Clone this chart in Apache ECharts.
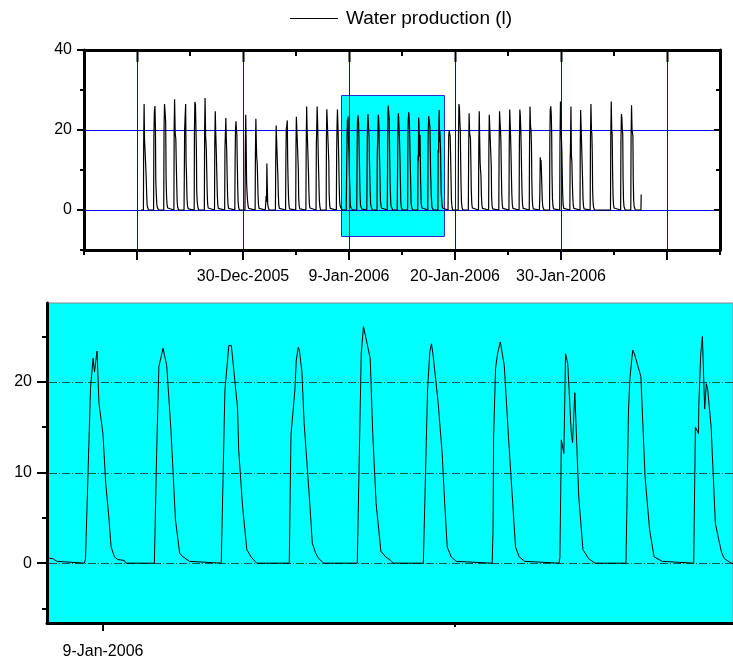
<!DOCTYPE html>
<html>
<head>
<meta charset="utf-8">
<script src="https://cdn.jsdelivr.net/npm/echarts@6/dist/echarts.min.js"></script>
<style>
  html, body { margin: 0; padding: 0; background: #ffffff; }
  #chart { width: 733px; height: 666px; }
</style>
</head>
<body>
<div id="chart"></div>
<script>
// ---------------------------------------------------------------------------
// Water production record, 20-Dec-2005 ... 7-Feb-2006.
// Time is counted in days from 30-Dec-2005 00:00.
// Each day is a list of [hour of day, litres] vertices; the output is zero
// between the last vertex of one day and the first vertex of the next.
// ---------------------------------------------------------------------------
const seriesName = 'Water production (l)';
const firstDayOffset = -10;          // 20-Dec-2005 relative to 30-Dec-2005

const dayTraces = [
  /* 20-Dec */ [[2.4,0],[8.0,0],[8.6,17],[9.6,26.5],[10.6,17.5],[12.0,14.5],[13.4,11],[14.6,7.8],[15.8,3.5],[16.8,1.2],[18.0,0.6],[20.0,0]],
  /* 21-Dec */ [[8.0,0],[8.7,18],[9.8,24.5],[11.2,26],[12.4,20],[13.2,7.5],[14.4,4],[15.6,1.5],[17.0,0.6],[18.5,0.3],[20.0,0]],
  /* 22-Dec */ [[8.0,0],[8.7,20],[9.8,26.5],[11.4,24.2],[12.6,22],[13.6,7.5],[14.8,3],[16.0,1.2],[17.5,0.5],[19.0,0]],
  /* 23-Dec */ [[8.0,0],[8.7,21],[9.7,27.7],[11.0,19.3],[12.6,17.7],[13.8,11],[14.8,6],[15.8,2],[17.0,0.7],[19.0,0]],
  /* 24-Dec */ [[8.0,0],[8.6,8],[9.4,20],[10.6,23.5],[11.8,26.5],[12.8,12],[13.8,8.7],[15.0,3],[16.2,1],[18.0,0.3],[19.5,0]],
  /* 25-Dec */ [[8.0,0],[8.6,20],[9.6,27],[11.0,26.4],[12.2,26],[13.2,15],[14.0,4.6],[15.2,2],[16.6,0.8],[18.5,0]],
  /* 26-Dec */ [[8.0,0],[8.7,20],[9.7,28],[11.0,18.5],[12.6,15.3],[13.8,9],[14.8,4],[15.8,1.5],[17.2,0.5],[19.0,0]],
  /* 27-Dec */ [[8.0,0],[8.7,17],[9.8,24.7],[11.0,19],[12.4,14],[13.6,8.5],[14.6,4],[15.8,1.2],[17.2,0.4],[19.0,0]],
  /* 28-Dec */ [[8.0,0],[8.7,15],[9.6,18.5],[10.8,23],[11.8,18],[12.8,15],[13.8,9],[14.8,4],[16.0,1.2],[17.5,0.4],[19.0,0]],
  /* 29-Dec */ [[8.0,0],[8.7,12],[9.6,20],[10.8,22.2],[11.8,20],[12.8,19],[13.8,12],[14.8,6],[15.8,2],[17.2,0.6],[19.0,0]],
  /* 30-Dec */ [[8.0,0],[8.7,14],[9.8,23.8],[10.8,17],[11.8,7.1],[12.8,4.6],[14.0,2.5],[15.4,1],[17.0,0.4],[18.5,0]],
  /* 31-Dec */ [[8.0,0],[8.7,14],[9.8,22.8],[10.8,17],[11.8,13],[12.8,12],[13.8,8.5],[14.8,4],[16.0,1.3],[17.5,0.4],[19.0,0]],
  /* 01-Jan */ [[8.0,0],[9.0,1.5],[10.0,3.5],[11.0,2],[11.8,11.6],[12.8,6],[13.8,1.5],[15.2,0.6],[17.0,0]],
  /* 02-Jan */ [[8.0,0],[8.7,12],[9.8,21.1],[10.8,17.5],[11.8,14.4],[12.8,11],[13.8,8.7],[14.8,4],[16.0,1.2],[17.5,0.4],[19.0,0]],
  /* 03-Jan */ [[8.0,0],[8.7,12],[9.6,20.2],[10.8,21],[12.0,22.4],[13.0,12],[14.0,7],[15.0,3],[16.2,1],[17.5,0.3],[19.0,0]],
  /* 04-Jan */ [[8.0,0],[8.6,16],[9.5,23.3],[10.8,23.4],[12.2,23.3],[13.4,23.2],[14.2,10],[15.0,3],[16.2,1],[17.6,0.3],[19.0,0]],
  /* 05-Jan */ [[8.0,0],[8.7,15],[9.8,25.9],[11.0,20],[12.2,16.1],[13.2,12.5],[14.2,9.1],[15.2,4.5],[16.2,1.5],[17.6,0.5],[19.0,0]],
  /* 06-Jan */ [[8.0,0],[8.7,16],[9.6,20],[10.6,25.9],[11.8,22],[12.8,16],[13.8,11],[14.8,7],[15.8,2.5],[17.2,0.7],[19.0,0]],
  /* 07-Jan */ [[8.0,0],[8.6,18],[9.5,25.2],[10.8,25.3],[12.2,25.2],[13.4,25],[14.2,12],[15.0,4],[16.2,1.2],[17.6,0.4],[19.0,0]],
  /* 08-Jan */ [[8.0,0],[8.7,14],[9.6,21],[10.6,25.1],[11.8,21],[12.8,17],[13.6,13],[14.6,7],[15.6,2.5],[16.6,1.2],[17.6,0.9],[18.3,0.8],[18.8,0.55],[20.0,0.5],[20.5,0.3],[21.6,0.2],[22.2,0]],
  /* 09-Jan */ [[7.3,0],[7.7,0.5],[9.5,19.4],[10.2,19.4],[10.4,22.6],[10.9,21.1],[11.8,23.4],[12.5,17.6],[13.9,14.3],[14.9,8.8],[16.0,5.1],[16.8,1.8],[18.0,0.7],[19.2,0.4],[21.5,0.3],[22.1,0]],
  /* 10-Jan */ [[8.2,0],[9.0,12],[9.8,21.7],[11.3,23.7],[12.6,21.8],[14.1,14.7],[14.7,11],[15.7,4.8],[17.2,1.1],[18.4,0.7],[20.7,0.2],[21.3,0]],
  /* 11-Jan */ [[8.0,0],[9.3,19.1],[10.7,24.0],[11.6,24.0],[13.8,17.1],[14.2,12.5],[15.6,6.2],[17.1,1.5],[18.6,0.7],[20.6,0]],
  /* 12-Jan */ [[8.2,0],[8.8,14.1],[10.2,19.1],[10.7,22.4],[11.4,23.8],[11.8,23.5],[12.7,21.1],[13.5,15.4],[15.5,6.6],[16.4,2.2],[17.6,1.1],[18.7,0.5],[20.5,0]],
  /* 13-Jan */ [[8.4,0],[9.8,23.1],[10.6,26.1],[13.0,22.6],[13.9,14.3],[15.1,6.6],[16.8,1.3],[18.5,0.7],[20.3,0.3],[21.1,0]],
  /* 14-Jan */ [[7.9,0],[9.4,19.1],[10.2,23.3],[10.8,24.2],[11.4,22.9],[11.8,22.8],[12.0,22.9],[13.2,17.6],[14.6,12.1],[15.5,6.6],[16.4,1.8],[17.8,0.7],[19.6,0.2],[19.9,0]],
  /* 15-Jan */ [[8.4,0],[8.7,3.7],[8.9,13.9],[9.6,21.5],[10.3,23.1],[11.3,24.4],[12.7,21.8],[14.2,13.9],[15.7,6.6],[16.7,1.8],[18.0,0.7],[20.0,0.2],[20.6,0]],
  /* 16-Jan */ [[8.2,0],[8.5,0.7],[9.0,13.6],[9.9,12.1],[10.5,23.1],[11.3,22.0],[12.0,21.8],[12.5,14.5],[13.0,13.3],[13.8,18.8],[15.2,7.3],[16.7,1.5],[18.7,0.5],[21.0,0]],
  /* 17-Jan */ [[8.0,0],[8.9,16.9],[9.4,20.4],[10.4,23.5],[11.0,23.1],[11.7,23.1],[13.3,20.6],[14.8,9.5],[16.4,3.7],[18.0,0.7],[20.9,0.2],[21.4,0]],
  /* 18-Jan */ [[8.1,0],[8.7,15],[9.8,14.3],[9.9,17.3],[10.6,23.1],[11.2,25],[12.0,17],[12.6,19.8],[13.1,19.1],[14.3,15],[15.8,4.4],[17.0,2.6],[18.0,1.2],[19.0,0.5],[20.5,0.2],[21.5,0]],
  /* 19-Jan */ [[8.0,0],[8.7,10],[9.6,18.5],[10.8,19.8],[12.0,20],[13.0,18.5],[14.0,14],[15.0,8],[16.0,2.5],[17.5,0.7],[19.0,0]],
  /* 20-Jan */ [[8.0,0],[8.7,18],[9.8,26.5],[11.0,25.5],[12.0,22],[13.0,20],[13.8,13],[14.8,6],[15.8,2],[17.2,0.6],[19.0,0]],
  /* 21-Jan */ [[8.0,0],[8.7,14],[9.8,24.2],[11.0,19.3],[12.0,19],[13.0,18],[14.0,12],[15.0,5],[16.2,1.5],[17.6,0.5],[19.0,0]],
  /* 22-Jan */ [[8.0,0],[8.7,16],[9.8,24.7],[10.8,18],[11.8,12],[12.8,10],[13.8,8.7],[14.8,4],[16.0,1.3],[17.5,0.4],[19.0,0]],
  /* 23-Jan */ [[8.0,0],[8.6,16],[9.5,23.8],[10.8,24],[12.2,23.8],[13.4,23.6],[14.2,11],[15.0,3.5],[16.2,1],[17.6,0.3],[19.0,0]],
  /* 24-Jan */ [[8.0,0],[8.7,15],[9.8,24.7],[11.0,22],[12.0,20],[13.0,17],[14.0,10],[15.0,4],[16.2,1.3],[17.6,0.4],[19.0,0]],
  /* 25-Jan */ [[8.0,0],[8.7,16],[9.8,25.1],[10.8,22],[11.8,18.5],[12.8,14.4],[13.8,9],[14.8,4],[16.0,1.3],[17.5,0.4],[19.0,0]],
  /* 26-Jan */ [[8.0,0],[8.7,17],[9.8,25.1],[11.0,23.4],[12.0,20],[13.0,15],[14.0,9],[15.0,4],[16.2,1.3],[17.6,0.4],[19.0,0]],
  /* 27-Jan */ [[8.0,0],[8.7,17],[9.8,25.9],[11.0,21],[12.2,20],[13.2,16],[14.0,8],[15.0,3],[16.2,1],[17.6,0.3],[19.0,0]],
  /* 28-Jan */ [[8.0,0],[9.0,4],[10.0,13.2],[10.8,11.2],[11.8,12.5],[12.8,9.5],[13.8,6],[14.8,2.5],[16.0,0.8],[17.5,0.3],[19.0,0]],
  /* 29-Jan */ [[8.0,0],[8.7,18],[9.6,25],[10.8,25.9],[12.0,24],[13.0,19],[13.8,9],[14.8,3],[16.0,1],[17.5,0.3],[19.0,0]],
  /* 30-Jan */ [[8.0,0],[8.7,18],[9.8,27.1],[11.0,21],[12.0,18],[13.0,15],[14.0,9],[15.0,4],[16.2,1.3],[17.6,0.4],[19.0,0]],
  /* 31-Jan */ [[8.0,0],[8.6,12],[9.4,16],[10.6,25.9],[11.6,13.6],[12.8,12],[13.8,7],[14.8,3.5],[16.0,1.2],[17.4,0.4],[19.0,0]],
  /* 01-Feb */ [[8.0,0],[8.6,17],[9.5,25],[10.8,25.2],[12.2,25],[13.4,24.8],[14.2,7],[15.0,3],[16.2,1],[17.6,0.3],[19.0,0]],
  /* 02-Feb */ [[8.0,0],[8.7,18],[9.8,26.5],[11.0,20.2],[12.0,19],[13.0,14],[13.8,5],[14.8,2],[16.0,0.7],[17.4,0.2],[18.5,0]],
  /* 03-Feb */ [],
  /* 04-Feb */ [[8.0,0],[8.7,18],[9.8,27.1],[11.0,20],[12.0,19],[13.0,9.5],[14.0,4],[15.0,1.5],[16.4,0.5],[18.0,0]],
  /* 05-Feb */ [[8.0,0],[8.7,17],[9.8,24],[11.0,23],[12.0,20],[13.0,19],[13.8,8],[14.8,2.5],[16.0,0.8],[17.5,0.3],[19.0,0]],
  /* 06-Feb */ [[8.0,0],[8.7,18],[9.8,26.2],[11.0,20],[12.0,19.5],[13.0,18.5],[13.8,8],[14.8,2.5],[16.0,0.8],[17.5,0.3],[19.0,0]],
  /* 07-Feb */ [[8.0,0],[8.6,3.9]]
];

// Date axis: major ticks (days from 30-Dec-2005) and their labels
const tickStep = 10.44;
const majorTicks = [-10.30, 0.14, 10.58, 21.02, 31.46, 41.90];
const majorLabels = ['', '30-Dec-2005', '9-Jan-2006', '20-Jan-2006', '30-Jan-2006', ''];

// Overview panel ranges and ticks
const overviewX = [-15.52, 47.12];
const overviewY = [-10, 40];
const overviewYMinor = [-10, 10, 30];
const overviewYMajor = [0, 20, 40];
const overviewGridLines = [0, 20];

// Detail panel (the highlighted window) ranges and ticks
const detailX = [9.75, 19.92];
const detailY = [-6.6, 28.7];
const detailYMinor = [-5, 5, 15, 25];
const detailYMajor = [0, 10, 20];
const detailGridLines = [0, 10, 20];

// ---------------------------------------------------------------------------
const points = [];
dayTraces.forEach((trace, d) => {
  trace.forEach(([h, v]) => points.push([firstDayOffset + d + h / 24, v]));
});

const minorTicks = majorTicks.map(v => +(v - tickStep / 2).toFixed(2))
  .concat([+(majorTicks[majorTicks.length - 1] + tickStep / 2).toFixed(2)]);
const inRange = (arr, r) => arr.filter(v => v >= r[0] - 1e-6 && v <= r[1] + 1e-6);
const labelledTicks = majorTicks.filter((v, i) => majorLabels[i] !== '');
function dateLabel(value) {
  let best = 0;
  majorTicks.forEach((t, i) => { if (Math.abs(t - value) < Math.abs(majorTicks[best] - value)) best = i; });
  return majorLabels[best];
}

const FONT = "'Liberation Sans', Arial, Helvetica, sans-serif";
const AXIS_LINE = { show: true, onZero: false, lineStyle: { color: '#000', width: 3 } };
const NO_LINE = { show: false, onZero: false };
const labelStyle = { color: '#000', fontSize: 16, fontFamily: FONT };

function axis(opts) {
  const a = {
    type: 'value',
    gridIndex: opts.grid,
    position: opts.position,
    min: opts.range[0],
    max: opts.range[1],
    axisLine: opts.line ? AXIS_LINE : NO_LINE,
    axisTick: {
      show: true,
      inside: !!opts.inside,
      length: opts.tickLen,
      customValues: opts.ticks,
      lineStyle: { color: '#000', width: 2 }
    },
    axisLabel: { show: false },
    splitLine: { show: false },
    splitArea: { show: false },
    minorTick: { show: false },
    minorSplitLine: { show: false },
    silent: true
  };
  if (opts.labels) {
    a.axisLabel = Object.assign({
      show: true,
      customValues: opts.labels,
      margin: opts.margin,
      formatter: opts.formatter
    }, labelStyle);
  }
  return a;
}

const xAxes = [
  axis({ grid: 0, position: 'bottom', range: overviewX, line: true, ticks: inRange(minorTicks, overviewX), tickLen: 5 }),
  axis({ grid: 0, position: 'bottom', range: overviewX, line: false, ticks: inRange(majorTicks, overviewX), tickLen: 10,
         labels: labelledTicks, margin: 19, formatter: v => dateLabel(v) }),
  axis({ grid: 0, position: 'top', range: overviewX, line: true, inside: true, ticks: inRange(minorTicks, overviewX), tickLen: 6 }),
  axis({ grid: 1, position: 'bottom', range: detailX, line: true, ticks: inRange(minorTicks, detailX), tickLen: 4 }),
  axis({ grid: 1, position: 'bottom', range: detailX, line: false, ticks: inRange(majorTicks, detailX), tickLen: 8,
         labels: inRange(labelledTicks, detailX), margin: 21, formatter: v => dateLabel(v) })
];

const yAxes = [
  axis({ grid: 0, position: 'left', range: overviewY, line: true, ticks: overviewYMinor, tickLen: 4,
         labels: overviewYMajor, margin: 12, formatter: v => String(v) }),
  axis({ grid: 0, position: 'left', range: overviewY, line: false, ticks: overviewYMajor, tickLen: 7 }),
  axis({ grid: 0, position: 'right', range: overviewY, line: true, inside: true, ticks: overviewYMinor, tickLen: 4 }),
  axis({ grid: 0, position: 'right', range: overviewY, line: false, inside: true, ticks: overviewYMajor, tickLen: 6 }),
  axis({ grid: 1, position: 'left', range: detailY, line: true, ticks: detailYMinor, tickLen: 5,
         labels: detailYMajor, margin: 15, formatter: v => String(v) }),
  axis({ grid: 1, position: 'left', range: detailY, line: false, ticks: detailYMajor, tickLen: 10 })
];

const GRID_BLUE = '#0000ff';
const TOP_MAJOR_TICK = 12;   // inward length of the major ticks on the top frame

// grid lines of the overview: vertical ones at the major date ticks (kind 0,
// topped by the inward major tick of the upper frame), horizontal ones at the
// listed levels (kind 1)
const overviewGridData = inRange(majorTicks, overviewX).map(v => [0, v, 0])
  .concat(overviewGridLines.map(v => [1, overviewX[0], v]));

const option = {
  animation: false,
  backgroundColor: '#ffffff',
  legend: {
    data: [{ name: seriesName, icon: 'rect' }],
    left: 285,
    top: 4,
    itemWidth: 48,
    itemHeight: 1,
    textStyle: { color: '#000', fontSize: 19, fontFamily: FONT, padding: [0, 0, 0, 3] },
    selectedMode: false
  },
  grid: [
    { left: 84, right: 13, top: 50, bottom: 416, show: false },
    { left: 47, right: -14, top: 303, bottom: 43, show: true,
      backgroundColor: '#00ffff', borderColor: '#8a8a8a', borderWidth: 1 }
  ],
  xAxis: xAxes,
  yAxis: yAxes,
  series: [
    // highlighted window in the overview
    {
      type: 'custom', xAxisIndex: 0, yAxisIndex: 0, z: 1, silent: true,
      encode: { x: [0, 2], y: [1, 3] },
      data: [[detailX[0], detailY[0], detailX[1], detailY[1]]],
      renderItem(params, api) {
        const p0 = api.coord([api.value(0), api.value(3)]);
        const p1 = api.coord([api.value(2), api.value(1)]);
        return {
          type: 'rect',
          shape: { x: Math.round(p0[0]) + 0.5, y: Math.round(p0[1]) + 0.5,
                   width: Math.round(p1[0] - p0[0]), height: Math.round(p1[1] - p0[1]) },
          style: { fill: '#00ffff', stroke: '#2a2ad0', lineWidth: 1 }
        };
      }
    },
    {
      type: 'custom', xAxisIndex: 0, yAxisIndex: 0, z: 2, silent: true,
      encode: { x: 1, y: 2 },
      data: overviewGridData,
      renderItem(params, api) {
        const cs = params.coordSys;
        if (api.value(0) === 0) {
          const x = Math.round(api.coord([api.value(1), 0])[0]);
          return {
            type: 'group',
            children: [
              { type: 'rect', shape: { x: x, y: cs.y + TOP_MAJOR_TICK, width: 1, height: cs.height - TOP_MAJOR_TICK - 1 },
                style: { fill: GRID_BLUE } },
              { type: 'rect', shape: { x: x - 0.5, y: cs.y, width: 2, height: TOP_MAJOR_TICK },
                style: { fill: '#000' } }
            ]
          };
        }
        const y = Math.round(api.coord([overviewX[0], api.value(2)])[1]);
        return { type: 'rect', shape: { x: cs.x + 1, y: y, width: cs.width - 7, height: 1 },
                 style: { fill: GRID_BLUE } };
      }
    },
    // detail dash-dot grid lines
    {
      type: 'custom', xAxisIndex: 3, yAxisIndex: 4, z: 2, silent: true,
      data: detailGridLines.map(v => [detailX[0], v]),
      renderItem(params, api) {
        const y = Math.round(api.coord([detailX[0], api.value(1)])[1]) + 0.5;
        const cs = params.coordSys;
        return {
          type: 'line',
          shape: { x1: cs.x + 2, y1: y, x2: cs.x + cs.width, y2: y },
          style: { stroke: '#1a5656', lineWidth: 1, lineDash: [8, 2, 1, 2] }
        };
      }
    },
    {
      name: seriesName, type: 'line', xAxisIndex: 0, yAxisIndex: 0, z: 3,
      data: points, showSymbol: false, symbol: 'none', clip: true,
      color: '#000', lineStyle: { color: '#000', width: 1.2 }
    },
    {
      name: seriesName, type: 'line', xAxisIndex: 3, yAxisIndex: 4, z: 3,
      data: points, showSymbol: false, symbol: 'none', clip: true,
      color: '#000', lineStyle: { color: '#000', width: 1 }
    }
  ]
};

const chart = echarts.init(document.getElementById('chart'), null, { renderer: 'canvas' });
chart.setOption(option);
</script>
</body>
</html>
